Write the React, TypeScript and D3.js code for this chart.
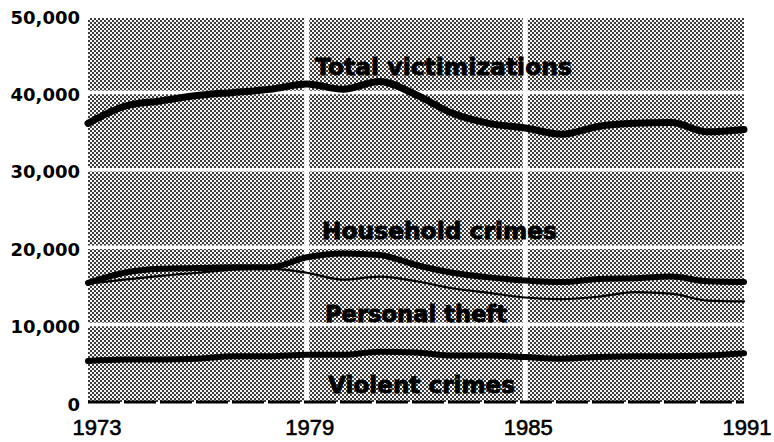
import React, { useEffect, useRef } from "react";
import * as d3 from "d3";

// values in thousands
const years = [1973, 1974, 1975, 1976, 1977, 1978, 1979, 1980, 1981, 1982, 1983, 1984, 1985, 1986, 1987, 1988, 1989, 1990, 1991];
const totalVictimizations = [36.0, 38.2, 38.9, 39.6, 40.0, 40.4, 41.1, 40.4, 41.4, 39.7, 37.3, 36.0, 35.4, 34.6, 35.6, 36.0, 36.1, 34.9, 35.2];
const householdCrimes = [15.4, 16.7, 17.2, 17.3, 17.4, 17.4, 18.7, 19.2, 19.0, 17.7, 16.7, 16.1, 15.7, 15.5, 15.9, 16.0, 16.2, 15.6, 15.5];
const personalTheft = [15.3, 15.8, 16.3, 16.7, 17.1, 17.2, 16.7, 15.8, 16.2, 15.6, 14.7, 14.1, 13.5, 13.3, 13.6, 14.2, 14.0, 13.1, 13.0];
const violentCrimes = [5.3, 5.5, 5.5, 5.6, 5.9, 5.9, 6.1, 6.1, 6.5, 6.4, 6.0, 6.0, 5.8, 5.6, 5.8, 5.9, 5.9, 6.0, 6.3];

const yTicks = [0, 10000, 20000, 30000, 40000, 50000];
const xTicks = [1973, 1979, 1985, 1991];

const series = [
  { name: "Total victimizations", values: totalVictimizations, width: 7, label: [315, 75, 257] },
  { name: "Household crimes", values: householdCrimes, width: 6, label: [322, 239, 235] },
  { name: "Personal theft", values: personalTheft, width: 2.2, label: [325, 322, 182] },
  { name: "Violent crimes", values: violentCrimes, width: 6, label: [328, 393, 187] },
];

export default function App() {
  const ref = useRef<SVGSVGElement>(null);

  useEffect(() => {
    const svg = d3.select(ref.current);
    svg.selectAll("*").remove();

    const left = 88, right = 744, top = 18, bottom = 402;
    const x = d3.scaleLinear().domain([1973, 1991]).range([left, right]);
    const y = d3.scaleLinear().domain([0, 50000]).range([bottom, 15]);

    // halftone screen
    const pat = svg.append("defs").append("pattern")
      .attr("id", "dots").attr("patternUnits", "userSpaceOnUse")
      .attr("width", 4).attr("height", 4);
    pat.append("rect").attr("width", 4).attr("height", 4).attr("fill", "#f6f6f6");
    pat.append("rect").attr("width", 2).attr("height", 2).attr("fill", "#3c3c3c");
    pat.append("rect").attr("x", 2).attr("y", 2).attr("width", 2).attr("height", 2).attr("fill", "#3c3c3c");

    svg.append("rect")
      .attr("x", left).attr("y", top)
      .attr("width", right - left).attr("height", bottom - top)
      .attr("fill", "url(#dots)");

    // grid
    svg.append("g").selectAll("line").data(yTicks.filter(d => d > 0 && d < 50000)).join("line")
      .attr("x1", left).attr("x2", right)
      .attr("y1", d => y(d)).attr("y2", d => y(d))
      .attr("stroke", "#fff").attr("stroke-width", 3.5);
    svg.append("g").selectAll("line").data([1979, 1985]).join("line")
      .attr("x1", d => x(d)).attr("x2", d => x(d))
      .attr("y1", top).attr("y2", bottom + 2)
      .attr("stroke", "#fff").attr("stroke-width", 5);

    // dashed baseline
    svg.append("line")
      .attr("x1", left).attr("x2", right)
      .attr("y1", y(0)).attr("y2", y(0))
      .attr("stroke", "#000").attr("stroke-width", 3)
      .attr("stroke-dasharray", "32 4");

    // axis labels
    svg.append("g").selectAll("text").data(yTicks).join("text")
      .attr("x", 80).attr("y", d => y(d) + 2)
      .attr("text-anchor", "end").attr("dominant-baseline", "central")
      .attr("font-family", "DejaVu Sans").attr("font-weight", "bold").attr("font-size", 18)
      .text(d => d3.format(",")(d));
    svg.append("g").selectAll("text").data(xTicks).join("text")
      .attr("x", d => (d === 1973 ? x(d) + 9 : x(d) + 3)).attr("y", 435)
      .attr("text-anchor", "middle")
      .attr("font-family", "Liberation Sans, Arial").attr("font-size", 22)
      .attr("stroke", "#000").attr("stroke-width", 0.6)
      .text(d => d);

    // lines
    const line = d3.line<number>()
      .x((_, i) => x(years[i]))
      .y(d => y(d * 1000))
      .curve(d3.curveMonotoneX);
    svg.append("g").selectAll("path").data(series).join("path")
      .attr("d", d => line(d.values))
      .attr("fill", "none").attr("stroke", "#000")
      .attr("stroke-width", d => d.width)
      .attr("stroke-linecap", "round").attr("stroke-linejoin", "round");

    // series labels
    svg.append("g").selectAll("text").data(series).join("text")
      .attr("x", d => d.label[0]).attr("y", d => d.label[1])
      .attr("textLength", d => d.label[2]).attr("lengthAdjust", "spacingAndGlyphs")
      .attr("font-family", "DejaVu Sans").attr("font-weight", "bold").attr("font-size", 23)
      .attr("fill", "#000").attr("stroke", "#000").attr("stroke-width", 0.8)
      .text(d => d.name);
  }, []);

  return (
    <svg
      ref={ref}
      width={774}
      height={442}
      style={{ position: "absolute", left: 0, top: 0, background: "#fff" }}
    />
  );
}
